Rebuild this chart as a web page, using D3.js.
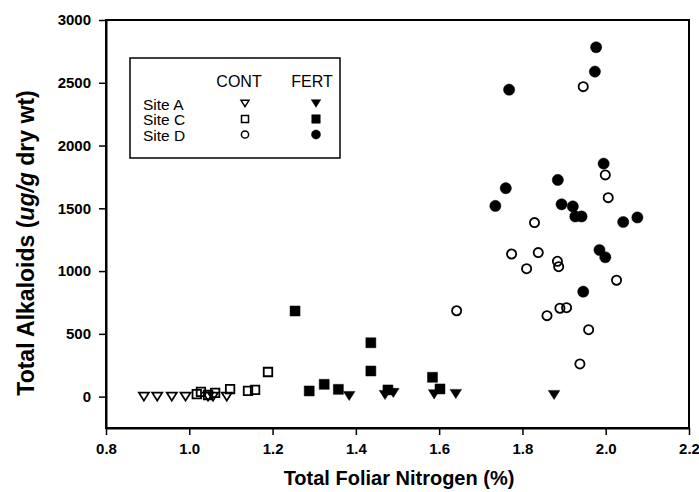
<!DOCTYPE html>
<html>
<head>
<script src="https://cdn.jsdelivr.net/npm/d3@7"></script>
<style>
    body { margin: 0; background: #fff; }
    text { font-family: "Liberation Sans", Arial, sans-serif; }
</style>
</head>
<body>
<svg id="chart" width="699" height="492"></svg>
<script>
    // [nitrogen %, alkaloids ug/g]
    const siteA_cont = [[0.891, 0], [0.923, 0], [0.958, 0], [0.991, 0], [1.045, 0], [1.057, 0], [1.09, 0]];
    const siteA_fert = [[1.384, 5], [1.47, 13], [1.49, 29], [1.588, 18], [1.64, 21], [1.876, 13]];
    const siteC_cont = [[1.018, 20], [1.028, 37], [1.045, 13], [1.062, 29], [1.098, 60], [1.141, 45], [1.158, 53], [1.189, 196]];
    const siteC_fert = [[1.254, 682], [1.288, 45], [1.324, 98], [1.358, 58], [1.436, 429], [1.436, 204], [1.477, 53], [1.584, 154], [1.602, 61]];
    const siteD_cont = [[1.642, 684], [1.946, 2469], [1.999, 1766], [2.006, 1585], [1.829, 1386], [1.774, 1136], [1.838, 1147],
        [1.81, 1019], [1.884, 1078], [1.887, 1035], [2.026, 927], [1.89, 704], [1.906, 708], [1.859, 645], [1.959, 533], [1.938, 260]];
    const siteD_fert = [[1.977, 2783], [1.974, 2589], [1.768, 2445], [1.995, 1856], [1.885, 1726], [1.76, 1660], [1.735, 1519],
        [1.894, 1532], [1.921, 1515], [1.927, 1435], [1.942, 1435], [2.042, 1391], [2.076, 1427], [1.985, 1168], [1.999, 1110], [1.946, 836]];

    const xTicks = [0.8, 1.0, 1.2, 1.4, 1.6, 1.8, 2.0, 2.2];
    const yTicks = [0, 500, 1000, 1500, 2000, 2500, 3000];

    const svg = d3.select("#chart");
    const plotLeft = 106, plotRight = 689, plotTop = 20, plotBottom = 428;

    const x = d3.scaleLinear().domain([0.8, 2.2]).range([plotLeft, plotRight]);
    const y = d3.scaleLinear().domain([-250, 3000]).range([plotBottom, plotTop]);

    // marker shapes
    function triPath(w) {
        const h = w * 0.8;
        return `M${-w / 2},${-h / 2}L${w / 2},${-h / 2}L0,${h / 2}Z`;
    }
    function sqPath(s) {
        return `M${-s / 2},${-s / 2}h${s}v${s}h${-s}Z`;
    }
    function circPath(r) {
        return d3.symbol(d3.symbolCircle, Math.PI * r * r)();
    }

    const series = [
        { data: siteA_cont, path: triPath(10), open: true },
        { data: siteC_cont, path: sqPath(8.5), open: true },
        { data: siteD_cont, path: circPath(4.6), open: true },
        { data: siteA_fert, path: triPath(11.5), open: false },
        { data: siteC_fert, path: sqPath(10), open: false },
        { data: siteD_fert, path: circPath(5.6), open: false }
    ];

    // frame
    svg.append("rect")
        .attr("x", plotLeft).attr("y", plotTop)
        .attr("width", plotRight - plotLeft).attr("height", plotBottom - plotTop)
        .attr("fill", "none").attr("stroke", "#000").attr("stroke-width", 2);

    const yAxis = svg.append("g")
        .attr("transform", `translate(${plotLeft},0)`)
        .call(d3.axisLeft(y).tickValues(yTicks).tickFormat(d3.format("d")).tickSize(7).tickSizeOuter(0).tickPadding(8));
    const xAxis = svg.append("g")
        .attr("transform", `translate(0,${plotBottom})`)
        .call(d3.axisBottom(x).tickValues(xTicks).tickFormat(d3.format(".1f")).tickSize(7).tickSizeOuter(0).tickPadding(8));

    [yAxis, xAxis].forEach(a => {
        a.select(".domain").attr("stroke-width", 2);
        a.selectAll(".tick line").attr("stroke-width", 1.5);
        a.selectAll(".tick text")
            .attr("font-family", "Liberation Sans, Arial, sans-serif")
            .attr("font-size", 15).attr("font-weight", "bold").attr("fill", "#000");
    });

    // points
    series.forEach(s => {
        svg.append("g").selectAll("path")
            .data(s.data)
            .enter()
            .append("path")
            .attr("d", s.path)
            .attr("transform", d => `translate(${x(d[0])},${y(d[1])})`)
            .attr("fill", s.open ? "#fff" : "#000")
            .attr("fill-opacity", s.open ? 0 : 1)
            .attr("stroke", "#000")
            .attr("stroke-width", s.open ? 1.8 : 0.5);
    });

    // axis titles
    svg.append("text")
        .attr("x", 399).attr("y", 485)
        .attr("text-anchor", "middle")
        .attr("font-size", 20).attr("font-weight", "bold")
        .text("Total Foliar Nitrogen (%)");

    const yTitle = svg.append("text")
        .attr("transform", "translate(34,243) rotate(-90)")
        .attr("text-anchor", "middle")
        .attr("font-size", 23).attr("font-weight", "bold");
    yTitle.append("tspan").text("Total Alkaloids (");
    yTitle.append("tspan").attr("font-style", "italic").text("ug/g");
    yTitle.append("tspan").text(" dry wt)");

    // legend
    const legend = svg.append("g");
    legend.append("rect")
        .attr("x", 130).attr("y", 58).attr("width", 210).attr("height", 100)
        .attr("fill", "#fff").attr("stroke", "#000").attr("stroke-width", 1.5);

    const legendRows = ["Site A", "Site C", "Site D"];
    const legendCols = ["CONT", "FERT"];
    const legendShapes = [[triPath(8), sqPath(7), circPath(3.6)], [triPath(9.5), sqPath(8.5), circPath(4.5)]];
    const colTextX = [239, 312];
    const colSymX = [245, 316];
    const rowY = [103.5, 119, 134.5];

    legendCols.forEach((c, i) => {
        legend.append("text")
            .attr("x", colTextX[i]).attr("y", 87)
            .attr("text-anchor", "middle")
            .attr("font-size", 16)
            .text(c);
    });
    legendRows.forEach((r, j) => {
        legend.append("text")
            .attr("x", 143).attr("y", rowY[j] + 6)
            .attr("font-size", 15.5)
            .text(r);
        legendCols.forEach((c, i) => {
            legend.append("path")
                .attr("d", legendShapes[i][j])
                .attr("transform", `translate(${colSymX[i]},${rowY[j]})`)
                .attr("fill", i === 0 ? "none" : "#000")
                .attr("stroke", "#000")
                .attr("stroke-width", i === 0 ? 1.5 : 0.5);
        });
    });
</script>
</body>
</html>
